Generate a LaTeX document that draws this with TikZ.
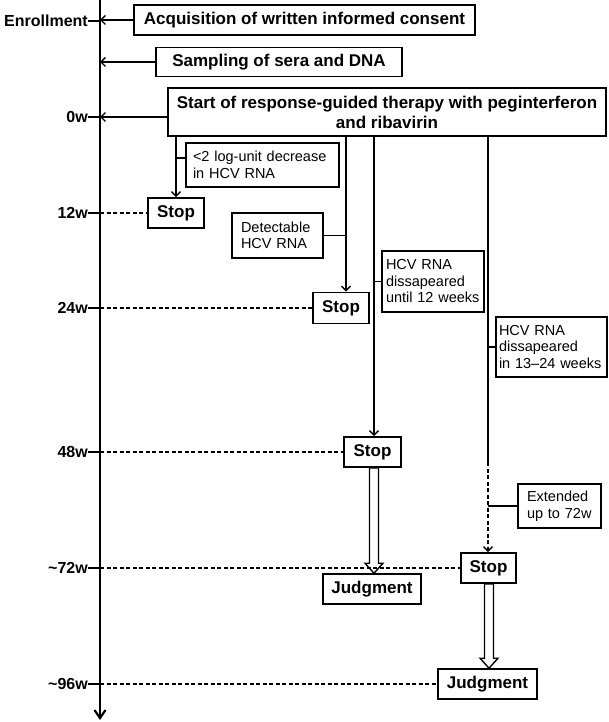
\documentclass[tikz,border=0pt]{standalone}
\usepackage{fontspec}
\setmainfont{Liberation Sans}
\usetikzlibrary{arrows.meta,calc}
\newcommand\bxf{\fontsize{17}{20}\selectfont\bfseries}
\newcommand\sxf{\fontsize{14.5}{16.5}\selectfont}
\newcommand\lbf{\fontsize{16}{18}\selectfont\bfseries}
\begin{document}
\begin{tikzpicture}[x=1pt,y=-1pt,
 bx/.style={draw, line width=1.6pt, font=\bxf, inner sep=0pt, align=center, fill=white},
 sx/.style={draw, line width=1.5pt, font=\sxf, align=left, inner ysep=0pt},
 lab/.style={font=\lbf, anchor=east, inner sep=0pt},
 conn/.style={line width=1.4pt},
 arr/.style={line width=1.4pt, -{Straight Barb[length=4.5pt,width=9pt]}},
 dsh/.style={line width=1.8pt, dash pattern=on 4pt off 2.5pt},
 hollow/.style={line width=1.4pt, line join=miter, fill=white},
 axisline/.style={line width=2.2pt, -{Straight Barb[length=8pt,width=11pt,line width=2.2pt]}},
 tick/.style={line width=1.6pt}]
\useasboundingbox (0,0) rectangle (609,722);
% axis
\coordinate (atop) at (100,0);
\coordinate (abot) at (100,720);
\draw[axisline] (atop) -- (abot);
% top boxes
\node[bx, minimum width=341pt, minimum height=30pt] (box1) at (304.5,20) {Acquisition of written informed consent};
\node[bx, minimum width=246pt, minimum height=29pt] (box2) at (279,62) {Sampling of sera and DNA};
\node[bx, minimum width=438pt, minimum height=48pt] (box3) at (387,112) {Start of response-guided therapy with peginterferon\\and ribavirin};
% branch x positions
\coordinate (b1) at (176,0);
\coordinate (b2) at (346,0);
\coordinate (b3) at (374,0);
\coordinate (b4) at (488,0);
% condition boxes
\node[sx, inner xsep=7pt, text width=139pt, minimum height=44pt] (lt2) at (262.5,165) {<2 log-unit decrease\\in HCV RNA};
\node[sx, inner xsep=9pt, text width=73pt, minimum height=45pt] (det) at (277.5,235.5) {Detectable\\HCV RNA};
\node[sx, inner xsep=4pt, text width=94pt, minimum height=61pt] (until) at (433,281.5) {HCV RNA\\dissapeared\\until 12 weeks};
\node[sx, inner xsep=3pt, text width=105pt, minimum height=60pt] (r1324) at (551.5,347) {HCV RNA\\dissapeared\\in 13--24 weeks};
\node[sx, inner xsep=9pt, text width=65pt, minimum height=44pt] (ext) at (559.5,506) {Extended\\up to 72w};
% stop and judgment boxes
\node[bx, minimum width=56pt, minimum height=30pt] (stop12) at (176,213) {Stop};
\node[bx, minimum width=56pt, minimum height=31pt] (stop24) at (341,308) {Stop};
\node[bx, minimum width=57pt, minimum height=30pt] (stop48) at (372.5,452) {Stop};
\node[bx, minimum width=55pt, minimum height=30pt] (stop72) at (488.5,568) {Stop};
\node[bx, minimum width=98pt, minimum height=30pt] (judg1) at (372,589) {Judgment};
\node[bx, minimum width=99pt, minimum height=30pt] (judg2) at (487.5,684) {Judgment};
% arrows from top boxes to axis
\coordinate (t0) at (100,117);
\draw[arr] (box1.west) -- (box1.west -| atop);
\draw[arr] (box2.west) -- (box2.west -| atop);
\draw[arr] (box3.west |- t0) -- (t0);
% branches
\draw[arr] (box3.south -| b1) -- (stop12.north);
\draw[arr] (box3.south -| b2) -- (stop24.north -| b2);
\draw[arr] (box3.south -| b3) -- (stop48.north -| b3);
\coordinate (d4) at (488,462);
\draw[conn] (box3.south -| b4) -- (d4);
\draw[arr, dash pattern=on 4pt off 2.5pt] (d4) -- (stop72.north -| b4);
% side connectors
\coordinate (c1) at (176,158);
\draw[conn] (c1) -- (c1 -| lt2.west);
\draw[conn] (det.east) -- (det.east -| b2);
\draw[conn] (until.west -| b3) -- (until.west);
\draw[conn] (r1324.west -| b4) -- (r1324.west);
\draw[conn] (ext.west -| b4) -- (ext.west);
% hollow double arrows
\draw[hollow] let \p1=(stop48.south -| b3), \p2=(judg1.north -| b3) in
  (\x1-4.5pt,\y1) -- (\x1-4.5pt,\y2+10pt) -- (\x1-9pt,\y2+10pt) -- (\x2,\y2)
  -- (\x1+9pt,\y2+10pt) -- (\x1+4.5pt,\y2+10pt) -- (\x1+4.5pt,\y1) -- cycle;
\coordinate (b5) at (489,0);
\draw[hollow] let \p1=(stop72.south -| b5), \p2=(judg2.north -| b5) in
  (\x1-4.5pt,\y1) -- (\x1-4.5pt,\y2+10pt) -- (\x1-9pt,\y2+10pt) -- (\x2,\y2)
  -- (\x1+9pt,\y2+10pt) -- (\x1+4.5pt,\y2+10pt) -- (\x1+4.5pt,\y1) -- cycle;
% labels and ticks
\node[lab] (lEn) at (88,21) {Enrollment};
\node[lab] (l0) at (88,117) {0w};
\node[lab] (l12) at (88,213) {12w};
\node[lab] (l24) at (88,308) {24w};
\node[lab] (l48) at (88,452) {48w};
\node[lab] (l72) at (88,568) {\textasciitilde72w};
\node[lab] (l96) at (88,684) {\textasciitilde96w};
\foreach \n in {lEn,l0,l12,l24,l48,l72,l96}
  \draw[tick] (\n.east) -- (\n.east -| atop);
% dashed lines
\draw[dsh] (stop12.west -| atop) -- (stop12.west);
\draw[dsh] (stop24.west -| atop) -- (stop24.west);
\draw[dsh] (stop48.west -| atop) -- (stop48.west);
\draw[dsh] (stop72.west -| atop) -- (stop72.west);
\draw[dsh] (judg2.west -| atop) -- (judg2.west);
\end{tikzpicture}
\end{document}
